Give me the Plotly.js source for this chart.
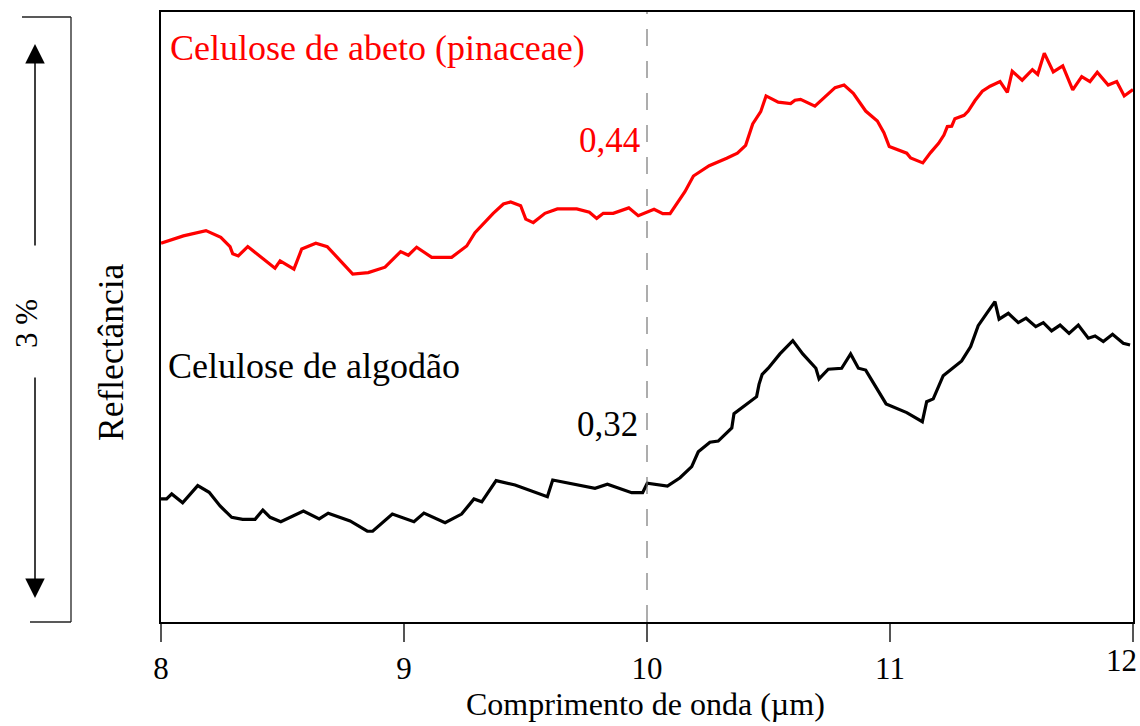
<!DOCTYPE html>
<html>
<head>
<meta charset="utf-8">
<script src="https://cdn.plot.ly/plotly-3.0.1.min.js"></script>
<style>html,body{margin:0;padding:0;background:#fff;}#chart{width:1140px;height:726px;}</style>
</head>
<body>
<div id="chart"></div>
<script>
// Wavelength (µm) and reflectance (%, arbitrary offset)
const abetoX = [8.000,8.092,8.185,8.246,8.284,8.295,8.318,8.357,8.469,8.490,8.547,8.579,8.637,8.684,8.748,8.789,8.853,8.922,8.986,9.018,9.052,9.114,9.196,9.258,9.292,9.354,9.367,9.409,9.439,9.480,9.501,9.532,9.580,9.631,9.711,9.763,9.793,9.820,9.861,9.925,9.964,10.029,10.065,10.095,10.156,10.191,10.256,10.328,10.372,10.406,10.435,10.468,10.490,10.540,10.591,10.609,10.632,10.691,10.774,10.811,10.849,10.900,10.948,10.975,10.997,11.069,11.085,11.135,11.167,11.200,11.222,11.236,11.254,11.267,11.305,11.322,11.350,11.380,11.412,11.453,11.483,11.503,11.544,11.586,11.608,11.635,11.672,11.711,11.752,11.789,11.823,11.853,11.898,11.933,11.964,12.000];
const abetoY = [1.878,1.914,1.940,1.907,1.861,1.825,1.815,1.861,1.754,1.790,1.749,1.849,1.878,1.861,1.778,1.725,1.732,1.759,1.836,1.818,1.858,1.808,1.808,1.864,1.930,2.013,2.026,2.072,2.082,2.064,1.997,1.980,2.026,2.048,2.048,2.031,2.001,2.026,2.026,2.053,2.014,2.046,2.024,2.024,2.133,2.211,2.262,2.299,2.324,2.363,2.469,2.530,2.608,2.577,2.570,2.587,2.591,2.557,2.649,2.662,2.621,2.533,2.484,2.426,2.357,2.324,2.300,2.276,2.327,2.373,2.414,2.456,2.458,2.495,2.512,2.533,2.585,2.631,2.656,2.679,2.626,2.730,2.686,2.738,2.715,2.820,2.727,2.757,2.638,2.704,2.679,2.725,2.662,2.679,2.608,2.640];

const algodaoX = [8.000,8.023,8.044,8.089,8.151,8.198,8.243,8.291,8.336,8.387,8.419,8.449,8.493,8.586,8.651,8.688,8.778,8.849,8.871,8.952,9.041,9.082,9.169,9.237,9.288,9.320,9.379,9.457,9.590,9.612,9.786,9.837,9.937,9.982,10.001,10.084,10.136,10.184,10.211,10.259,10.293,10.349,10.358,10.451,10.461,10.474,10.499,10.547,10.600,10.641,10.695,10.708,10.746,10.801,10.838,10.870,10.900,10.984,11.069,11.133,11.151,11.178,11.219,11.295,11.332,11.363,11.398,11.432,11.449,11.487,11.528,11.560,11.600,11.631,11.665,11.700,11.737,11.775,11.816,11.844,11.878,11.916,11.960,11.988];
const algodaoY = [0.610,0.610,0.635,0.591,0.676,0.643,0.575,0.519,0.509,0.509,0.555,0.519,0.497,0.550,0.511,0.539,0.501,0.450,0.450,0.535,0.497,0.540,0.492,0.535,0.610,0.596,0.701,0.679,0.621,0.704,0.663,0.683,0.641,0.641,0.688,0.674,0.715,0.770,0.844,0.891,0.897,0.962,1.033,1.117,1.178,1.228,1.258,1.329,1.395,1.329,1.258,1.205,1.253,1.258,1.329,1.258,1.249,1.081,1.038,0.993,1.092,1.106,1.221,1.294,1.365,1.469,1.530,1.588,1.501,1.530,1.484,1.506,1.464,1.484,1.443,1.472,1.431,1.472,1.407,1.418,1.390,1.426,1.382,1.373];

const tickVals = [8, 9, 10, 11, 12];
const tickText = ['8', '9', '10', '11', '12'];
const markerX = 10;
const labelAbeto = 'Celulose de abeto (pinaceae)';
const labelAlgodao = 'Celulose de algodão';
const valAbeto = '0,44';
const valAlgodao = '0,32';
const xTitle = 'Comprimento de onda (µm)';
const yTitle = 'Reflectância';
const scaleLabel = '3 %';

const FONT = 'Liberation Serif';
const W = 1140, H = 726, ML = 161, MR = 7, MT = 12, MB = 104;
const PW = W - ML - MR, PH = H - MT - MB;
const px = v => (v - ML) / PW;       // pixel x -> paper
const py = v => (H - MB - v) / PH;   // pixel y -> paper

// the last tick label sits at the page edge: it is drawn right-aligned as an annotation
const lastI = tickText.length - 1;
const shownTicks = tickText.map((t, i) => i === lastI ? '' : t);
const TICKSIZE = 31;

const traces = [
  {x: abetoX, y: abetoY, type: 'scatter', mode: 'lines', line: {color: '#ff0000', width: 3.2}, hoverinfo: 'skip'},
  {x: algodaoX, y: algodaoY, type: 'scatter', mode: 'lines', line: {color: '#000000', width: 3.2}, hoverinfo: 'skip'}
];

const layout = {
  width: W, height: H,
  margin: {l: ML, r: MR, t: MT, b: MB, pad: 0},
  paper_bgcolor: '#fff', plot_bgcolor: '#fff',
  showlegend: false,
  font: {family: FONT, color: '#000'},
  xaxis: {
    range: [7.9999, 12.0001], tickvals: tickVals, ticktext: shownTicks,
    ticks: 'outside', ticklen: 18, tickwidth: 1.5, tickcolor: '#555',
    showline: true, linecolor: '#000', linewidth: 2, mirror: true,
    showgrid: false, zeroline: false,
    tickfont: {family: FONT, size: TICKSIZE, color: '#000'}
  },
  yaxis: {
    range: [0, 3.024], showticklabels: false, ticks: '',
    showline: true, linecolor: '#000', linewidth: 2, mirror: true,
    showgrid: false, zeroline: false
  },
  shapes: [
    {type: 'line', xref: 'x', yref: 'paper', x0: markerX, x1: markerX, y0: 0, y1: 1,
     line: {color: '#777', width: 1.2, dash: '17px,15px'}},
    // bracket on the left
    {type: 'line', xref: 'paper', yref: 'paper', x0: px(71), x1: px(71), y0: py(17), y1: py(622), line: {color: '#222', width: 1.3}},
    {type: 'line', xref: 'paper', yref: 'paper', x0: px(22), x1: px(71), y0: py(17), y1: py(17), line: {color: '#222', width: 1.3}},
    {type: 'line', xref: 'paper', yref: 'paper', x0: px(30), x1: px(71), y0: py(622), y1: py(622), line: {color: '#222', width: 1.3}}
  ],
  annotations: [
    {xref: 'paper', yref: 'paper', x: px(35), y: py(44), ax: 0, ay: 203, text: '', showarrow: true,
     arrowhead: 2, arrowsize: 2.6, arrowwidth: 1.5, arrowcolor: '#000'},
    {xref: 'paper', yref: 'paper', x: px(35), y: py(598), ax: 0, ay: -222, text: '', showarrow: true,
     arrowhead: 2, arrowsize: 2.6, arrowwidth: 1.5, arrowcolor: '#000'},
    {xref: 'x', yref: 'paper', x: tickVals[lastI], y: py(641), text: tickText[lastI], showarrow: false,
     xanchor: 'right', yanchor: 'top', xshift: 6, font: {family: FONT, size: TICKSIZE, color: '#000'}},
    {xref: 'paper', yref: 'paper', x: px(26), y: py(324), text: scaleLabel, showarrow: false, textangle: -90,
     xanchor: 'center', yanchor: 'middle', font: {family: FONT, size: 31, color: '#000'}},
    {xref: 'paper', yref: 'paper', x: px(111), y: py(352), text: yTitle, showarrow: false, textangle: -90,
     xanchor: 'center', yanchor: 'middle', font: {family: FONT, size: 35.5, color: '#000'}},
    {xref: 'paper', yref: 'paper', x: px(645), y: 0, yshift: -(726 - 622 - 42), text: xTitle, showarrow: false,
     xanchor: 'center', yanchor: 'top', font: {family: FONT, size: 32, color: '#000'}},
    {xref: 'paper', yref: 'paper', x: px(168), y: py(48), text: labelAbeto, showarrow: false,
     xanchor: 'left', yanchor: 'middle', font: {family: FONT, size: 36, color: '#ff0000'}},
    {xref: 'paper', yref: 'paper', x: px(642), y: py(140), text: valAbeto, showarrow: false,
     xanchor: 'right', yanchor: 'middle', font: {family: FONT, size: 35, color: '#ff0000'}},
    {xref: 'paper', yref: 'paper', x: px(166), y: py(366), text: labelAlgodao, showarrow: false,
     xanchor: 'left', yanchor: 'middle', font: {family: FONT, size: 36, color: '#000'}},
    {xref: 'paper', yref: 'paper', x: px(640), y: py(424), text: valAlgodao, showarrow: false,
     xanchor: 'right', yanchor: 'middle', font: {family: FONT, size: 35, color: '#000'}}
  ]
};

Plotly.newPlot('chart', traces, layout, {staticPlot: true, displayModeBar: false});
</script>
</body>
</html>
